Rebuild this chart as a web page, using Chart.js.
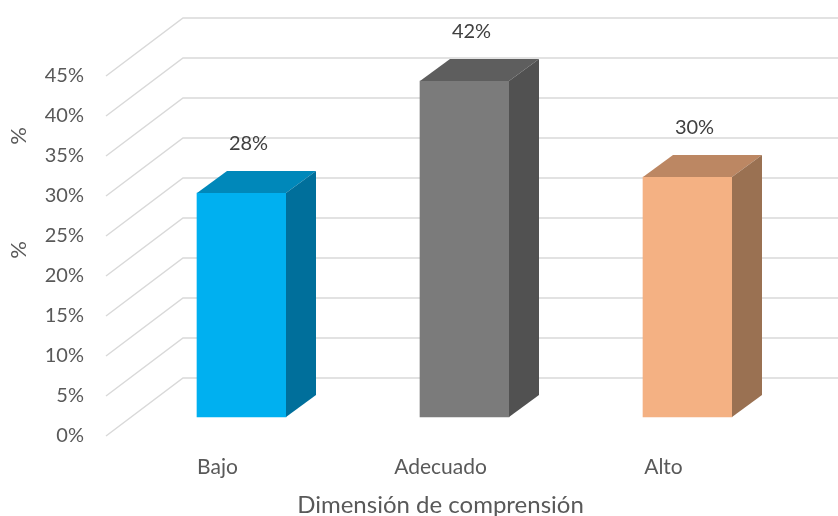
<!doctype html>
<html lang="es">
<head>
  <meta charset="UTF-8">
  <title>Dimensión de comprensión</title>
  <script src="https://cdn.jsdelivr.net/npm/chart.js@4.4.1/dist/chart.umd.min.js"></script>
  <style>
    html, body { margin: 0; padding: 0; background: #fff; }
    #wrap { width: 838px; height: 516px; }
  </style>
</head>
<body>
<div id="wrap"><canvas id="chart"></canvas></div>
<script>
  // data
  const categories = ['Bajo', 'Adecuado', 'Alto'];
  const percents = [28, 42, 30];
  const yTicks = [0, 5, 10, 15, 20, 25, 30, 35, 40, 45];
  const xTitle = 'Dimensión de comprensión';
  const yTitle = '%';

  // colours per bar: front, top, side
  const frontColors = ['#00B0F0', '#7B7B7B', '#F4B183'];
  const topColors = ['#0088BA', '#5E5E5E', '#BC8763'];
  const sideColors = ['#006F9B', '#515151', '#9A7152'];

  // fake 3d: floor depth and bar depth
  const floorDx = 77, floorDy = -58;
  const barShiftX = 24, barShiftY = -19;
  const barDx = 30, barDy = -22;
  const font = 'Lato, "Open Sans", sans-serif';

  const grid3d = {
    id: 'grid3d',
    beforeDatasetsDraw(chart) {
      const { ctx, chartArea } = chart;
      const y = chart.scales.y;
      ctx.save();
      ctx.strokeStyle = '#D9D9D9';
      ctx.lineWidth = 1.5;
      yTicks.forEach(t => {
        const py = y.getPixelForValue(t);
        ctx.beginPath();
        ctx.moveTo(chartArea.left, py);
        ctx.lineTo(chartArea.left + floorDx, py + floorDy);
        ctx.lineTo(chart.width, py + floorDy);
        ctx.stroke();
      });
      ctx.restore();
    },
    beforeDatasetDraw(chart) {
      chart.ctx.save();
      chart.ctx.translate(barShiftX, barShiftY);
    },
    afterDatasetDraw(chart, args) {
      const ctx = chart.ctx;
      args.meta.data.forEach((bar, i) => {
        const x0 = bar.x - bar.width / 2, x1 = bar.x + bar.width / 2;
        const top = bar.y, base = bar.base;
        ctx.fillStyle = topColors[i];
        ctx.beginPath();
        ctx.moveTo(x0, top);
        ctx.lineTo(x1, top);
        ctx.lineTo(x1 + barDx, top + barDy);
        ctx.lineTo(x0 + barDx, top + barDy);
        ctx.closePath();
        ctx.fill();
        ctx.fillStyle = sideColors[i];
        ctx.beginPath();
        ctx.moveTo(x1, top);
        ctx.lineTo(x1 + barDx, top + barDy);
        ctx.lineTo(x1 + barDx, base + barDy);
        ctx.lineTo(x1, base);
        ctx.closePath();
        ctx.fill();
        // value label
        ctx.fillStyle = '#404040';
        ctx.font = '20px ' + font;
        ctx.textAlign = 'center';
        ctx.textBaseline = 'middle';
        ctx.fillText(percents[i] + '%', bar.x + 7, top - 49);
      });
      ctx.restore();
    },
    afterDraw(chart) {
      const ctx = chart.ctx;
      ctx.save();
      ctx.fillStyle = '#595959';
      ctx.font = '22px ' + font;
      ctx.textAlign = 'center';
      ctx.textBaseline = 'middle';
      [136, 250].forEach(cy => {
        ctx.save();
        ctx.translate(19, cy);
        ctx.rotate(-Math.PI / 2);
        ctx.fillText(yTitle, 0, 0);
        ctx.restore();
      });
      ctx.restore();
    }
  };

  new Chart(document.getElementById('chart'), {
    type: 'bar',
    data: {
      labels: categories,
      datasets: [{
        data: percents,
        backgroundColor: frontColors,
        borderWidth: 0,
        barThickness: 89,
        clip: false
      }]
    },
    options: {
      responsive: true,
      maintainAspectRatio: false,
      animation: false,
      layout: { padding: { top: 76, left: 0, right: 63, bottom: 0 } },
      plugins: {
        legend: { display: false },
        tooltip: { enabled: false }
      },
      scales: {
        x: {
          grid: { display: false, drawTicks: false },
          border: { display: false },
          ticks: { color: '#595959', font: { family: font, size: 21 }, padding: 19 },
          title: {
            display: true,
            text: xTitle,
            color: '#595959',
            font: { family: font, size: 24 },
            padding: { top: 0, bottom: -4 }
          },
          afterFit(scale) { scale.height = 80; }
        },
        y: {
          min: 0,
          max: 45,
          grid: { display: false, drawTicks: false },
          border: { display: false },
          ticks: {
            stepSize: 5,
            color: '#595959',
            font: { family: font, size: 20 },
            padding: 22,
            callback: v => v + '%'
          },
          afterFit(scale) { scale.width = 106; }
        }
      }
    },
    plugins: [grid3d]
  });
</script>
</body>
</html>
